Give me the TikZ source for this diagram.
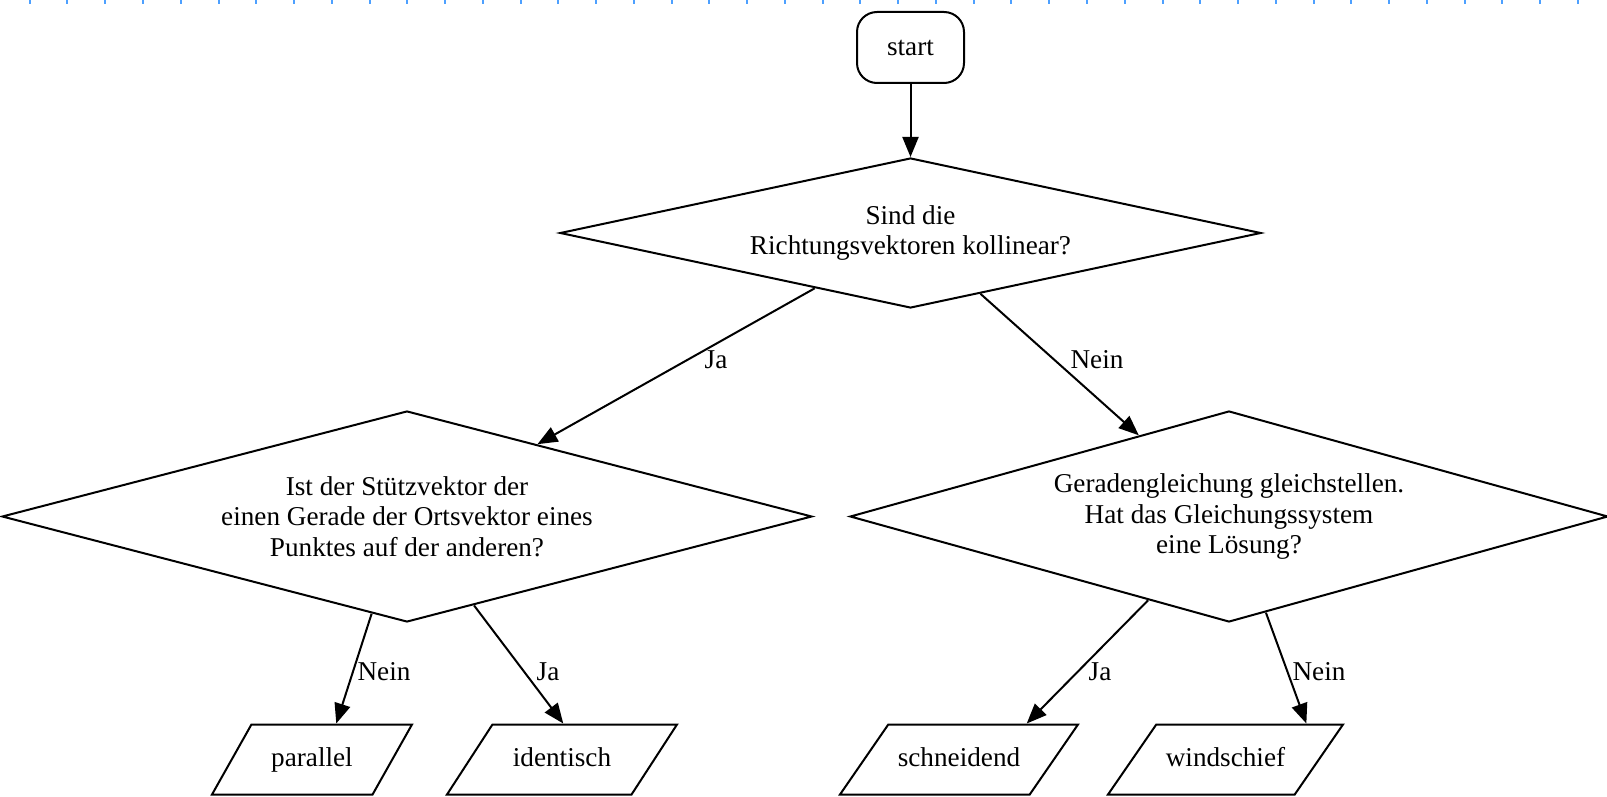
\documentclass[tikz,border=0pt]{standalone}
\usepackage{fontspec}
\setmainfont{Liberation Serif}
\usetikzlibrary{shapes.geometric,arrows.meta}
\definecolor{tickblue}{RGB}{77,160,255}
\begin{document}
\begin{tikzpicture}[x=0.5pt,y=-0.5pt,
  font=\fontsize{13.6}{15.35}\selectfont,
  line width=1pt,
  startbox/.style={rectangle, rounded corners=10pt, draw, minimum width=53.5pt, minimum height=35.5pt},
  decision/.style={diamond, draw, inner sep=0pt, align=center},
  outbox/.style={trapezium, trapezium stretches body=true, draw, text height=9.5pt, text depth=3pt, inner ysep=11.25pt, inner xsep=2pt},
  arr/.style={-{Triangle[length=10pt,width=8pt]}},
  lbl/.style={inner sep=1pt},
  tickline/.style={draw=tickblue, line width=1pt}]
\useasboundingbox (0,0) rectangle (1607,797);
\foreach \k in {0,...,41} \draw[tickline] ({29.7+37.76*\k},0) -- ++(0,4.5);

\node[startbox] (start) at (910.5,47.5) {start};
\node[decision, aspect=4.67, minimum width=350.5pt, minimum height=75pt] (d1) at (910.5,233) {Sind die\\Richtungsvektoren kollinear?};
\node[decision, aspect=3.84, minimum width=405pt, minimum height=105.5pt] (d2) at (407,516.5) {Ist der Stützvektor der\\einen Gerade der Ortsvektor eines\\Punktes auf der anderen?};
\node[decision, aspect=3.59, minimum width=379pt, minimum height=105.5pt] (d3) at (1229,516.5) {Geradengleichung gleichstellen.\\Hat das Gleichungssystem\\eine Lösung?};

\node[outbox, minimum width=100pt, trapezium left angle=60.6, trapezium right angle=119.4] (par) at (312,759.5) {parallel};
\node[outbox, minimum width=115pt, trapezium left angle=57, trapezium right angle=123] (ide) at (562,759.5) {identisch};
\node[outbox, minimum width=119pt, trapezium left angle=55.4, trapezium right angle=124.6] (sch) at (959,759.5) {schneidend};
\node[outbox, minimum width=117.5pt, trapezium left angle=55.4, trapezium right angle=124.6] (win) at (1225.5,759.5) {windschief};

\draw[arr] (start.south) -- (d1.north);
\draw[arr] (d1.210.5) -- (d2.29.4);
\draw[arr] (d1.-41.5) -- (d3.138);
\draw[arr] (d2.250.9) -- (par.56);
\draw[arr] (d2.-53.7) -- (ide.88.4);
\draw[arr] (d3.226.7) -- (sch.28.6);
\draw[arr] (d3.-69.8) -- (win.24.6);

\node[lbl] (l1) at (716,360) {Ja};
\node[lbl] (l2) at (1097,360) {Nein};
\node[lbl] (l3) at (384,672) {Nein};
\node[lbl] (l4) at (548,672) {Ja};
\node[lbl] (l5) at (1100,672) {Ja};
\node[lbl] (l6) at (1319,672) {Nein};
\end{tikzpicture}
\end{document}
